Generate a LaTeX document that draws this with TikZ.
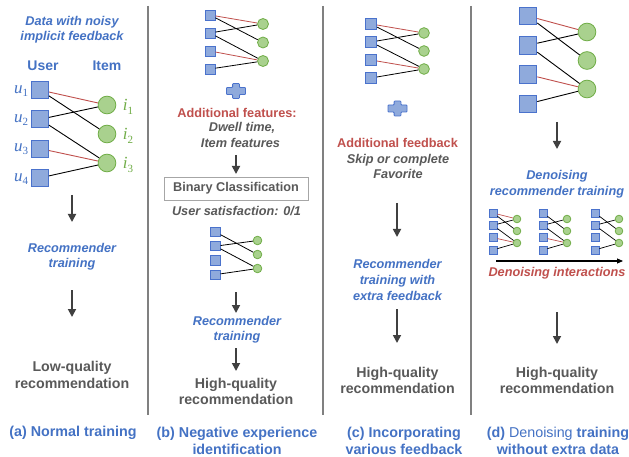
\documentclass[tikz,border=0pt]{standalone}
\usepackage{fontspec}
\setmainfont{Liberation Sans}
\newfontfamily\labserif{Liberation Serif}
\usetikzlibrary{arrows.meta}
\definecolor{tblue}{HTML}{4472C4}
\definecolor{sqfill}{HTML}{8FAADC}
\definecolor{sqdraw}{HTML}{4A72CC}
\definecolor{cfill}{HTML}{A9D18E}
\definecolor{cdraw}{HTML}{70AD47}
\definecolor{tred}{HTML}{C0504D}
\definecolor{tgray}{HTML}{595959}
\definecolor{agray}{HTML}{404040}
\definecolor{divgray}{HTML}{808080}
\definecolor{boxgray}{HTML}{A6A6A6}
\tikzset{
  sq/.style={draw=sqdraw, fill=sqfill, minimum size=#1, inner sep=0pt, line width=0.8pt},
  cir/.style={circle, draw=cdraw, fill=cfill, minimum size=#1, inner sep=0pt, line width=0.8pt},
  blk/.style={black},
  redl/.style={tred},
  flow/.style={agray, line width=1.7pt, -{Triangle[width=8pt,length=8pt]}},
  longarrow/.style={black, line width=1.1pt, -{Triangle[width=5pt,length=6pt]}},
  divider/.style={divgray, line width=1.1pt},
  plusst/.style={fill=sqfill, draw=sqdraw, line width=0.8pt, rounded corners=0.8pt},
  tbi/.style={text=tblue, font=\fontsize{12.7}{15}\selectfont\bfseries\itshape, align=center, inner sep=0pt},
  grayi/.style={text=tgray, font=\fontsize{12.7}{15}\selectfont\bfseries\itshape, align=center, inner sep=0pt},
  redb/.style={text=tred, font=\fontsize{12.7}{15}\selectfont\bfseries, align=center, inner sep=0pt},
  redi/.style={text=tred, font=\fontsize{12.7}{15}\selectfont\bfseries\itshape, align=center, inner sep=0pt},
  res/.style={text=tgray, font=\fontsize{14.2}{16.5}\selectfont\bfseries, align=center, inner sep=0pt},
  capt/.style={text=tblue, font=\fontsize{14.3}{17}\selectfont\bfseries, align=center, inner sep=0pt},
  hdr/.style={text=tblue, font=\fontsize{14}{16}\selectfont\bfseries, inner sep=0pt},
  ulab/.style={text=tblue, font=\fontsize{17}{18}\selectfont\labserif\itshape, inner sep=0pt},
  ilab/.style={text=cdraw, font=\fontsize{17}{18}\selectfont\labserif\itshape, inner sep=0pt},
  binbox/.style={draw=boxgray, line width=0.9pt, minimum width=144pt, minimum height=23pt, text=tgray, font=\fontsize{12.7}{15}\selectfont\bfseries, inner sep=0pt}
}
\newcommand\labsub[1]{\raisebox{-3.5pt}{\fontsize{11}{11}\selectfont\upshape #1}}
% #1 prefix, #2 square x, #3 circle x, #4 square y0, #5 square dy, #6 circle y0, #7 circle dy, #8 square size, #9 circle diameter
\newcommand\bipnodes[9]{%
  \foreach \k in {1,...,4} {\node[sq=#8pt] (#1u\k) at (#2,{#4+(\k-1)*#5}) {};}
  \foreach \k in {1,2,3} {\node[cir=#9pt] (#1i\k) at (#3,{#6+(\k-1)*#7}) {};}
}
\newcommand\plusshape[2]{%
  \draw[plusst, shift={(#1,#2)}] (-9.5,-3.5) -- (-3.4,-3.5) -- (-3.4,-7.5) -- (3.4,-7.5) -- (3.4,-3.5) -- (9.5,-3.5)
    -- (9.5,3.5) -- (3.4,3.5) -- (3.4,7.5) -- (-3.4,7.5) -- (-3.4,3.5) -- (-9.5,3.5) -- cycle;
}
\begin{document}
\begin{tikzpicture}[x=1pt,y=-1pt]
\useasboundingbox[fill=white] (0,0) rectangle (629,457);

% dividers
\coordinate (dv1t) at (148,6); \coordinate (dv1b) at (148,415);
\coordinate (dv2t) at (323,6); \coordinate (dv2b) at (323,415);
\coordinate (dv3t) at (471,6); \coordinate (dv3b) at (471,415);
\draw[divider] (dv1t) -- (dv1b);
\draw[divider] (dv2t) -- (dv2b);
\draw[divider] (dv3t) -- (dv3b);

% ===== (a) =====
\node[tbi] (adata) at (72,30) {Data with noisy\\implicit feedback};
\node[hdr] (auser) at (43,66) {User};
\node[hdr] (aitem) at (107,66) {Item};
\bipnodes{a}{40}{107}{90}{29.3}{105}{29}{17}{17.7}
\begin{scope}[line width=0.9pt]
\draw[redl] (au1) -- (ai1);
\draw[blk] (au1) -- (ai2);
\draw[blk] (au2) -- (ai1);
\draw[blk] (au2) -- (ai3);
\draw[redl] (au3) -- (ai3);
\draw[blk] (au4) -- (ai3);
\end{scope}
\node[ulab] (lu1) at (21,91) {u\labsub{1}};
\node[ulab] (lu2) at (21,120) {u\labsub{2}};
\node[ulab] (lu3) at (21,149) {u\labsub{3}};
\node[ulab] (lu4) at (21,179) {u\labsub{4}};
\node[ilab] (li1) at (128,107) {i\labsub{1}};
\node[ilab] (li2) at (128,136) {i\labsub{2}};
\node[ilab] (li3) at (128,165) {i\labsub{3}};
\coordinate (aa1s) at (72,195); \coordinate (aa1e) at (72,222);
\draw[flow] (aa1s) -- (aa1e);
\node[tbi] (arec) at (72,257) {Recommender\\training};
\coordinate (aa2s) at (72,290); \coordinate (aa2e) at (72,317);
\draw[flow] (aa2s) -- (aa2e);
\node[res] (alow) at (72,375) {Low-quality\\recommendation};
\node[capt] (acap) at (73,433) {(a) Normal training};

% ===== (b) =====
\bipnodes{b}{210}{263}{15}{18}{24}{18.5}{10}{11}
\begin{scope}[line width=0.8pt]
\draw[redl] (bu1) -- (bi1);
\draw[blk] (bu1) -- (bi2);
\draw[blk] (bu2) -- (bi1);
\draw[blk] (bu2) -- (bi3);
\draw[redl] (bu3) -- (bi3);
\draw[blk] (bu4) -- (bi3);
\end{scope}
\plusshape{236}{91}
\node[redb] (bfeat) at (237,113) {Additional features:};
\node[grayi] (bdwell) at (242,128) {Dwell time,};
\node[grayi] (bitem) at (240.5,143) {Item features};
\coordinate (ba1s) at (236,155); \coordinate (ba1e) at (236,174);
\draw[flow] (ba1s) -- (ba1e);
\node[binbox] (bbin) at (236,188.5) {Binary Classification};
\node[grayi] (bsat) at (236.5,211) {User satisfaction: 0/1};
\bipnodes{e}{215.5}{257.5}{232}{14.2}{240.5}{14}{9.3}{8.6}
\begin{scope}[line width=0.8pt]
\draw[blk] (eu1) -- (ei2);
\draw[blk] (eu2) -- (ei1);
\draw[blk] (eu2) -- (ei3);
\draw[blk] (eu4) -- (ei3);
\end{scope}
\coordinate (ba2s) at (236,292); \coordinate (ba2e) at (236,313);
\draw[flow] (ba2s) -- (ba2e);
\node[tbi] (brec) at (237,330) {Recommender\\training};
\coordinate (ba3s) at (236,348); \coordinate (ba3e) at (236,371);
\draw[flow] (ba3s) -- (ba3e);
\node[res] (bhigh) at (236,391.5) {High-quality\\recommendation};
\node[capt] (bcap) at (237,441) {(b) Negative experience\\identification};

% ===== (c) =====
\bipnodes{c}{371}{424}{24}{18}{33}{18}{11.5}{10.7}
\begin{scope}[line width=0.8pt]
\draw[redl] (cu1) -- (ci1);
\draw[blk] (cu1) -- (ci2);
\draw[blk] (cu2) -- (ci1);
\draw[blk] (cu2) -- (ci3);
\draw[redl] (cu3) -- (ci3);
\draw[blk] (cu4) -- (ci3);
\end{scope}
\plusshape{397.5}{108.5}
\node[redb] (cfb) at (397.5,143) {Additional feedback};
\node[grayi] (cskip) at (398,166) {Skip or complete\\Favorite};
\coordinate (ca1s) at (397,203); \coordinate (ca1e) at (397,237);
\draw[flow] (ca1s) -- (ca1e);
\node[tbi, font=\fontsize{12.7}{16}\selectfont\bfseries\itshape] (crec) at (397.5,280) {Recommender\\training with\\extra feedback};
\coordinate (ca2s) at (397,309); \coordinate (ca2e) at (397,343);
\draw[flow] (ca2s) -- (ca2e);
\node[res] (chigh) at (397.5,380.5) {High-quality\\recommendation};
\node[capt] (ccap) at (404,441) {(c) Incorporating\\various feedback};

% ===== (d) =====
\bipnodes{d}{528}{587}{16}{29.3}{32}{28.5}{17.7}{17.7}
\begin{scope}[line width=0.9pt]
\draw[redl] (du1) -- (di1);
\draw[blk] (du1) -- (di2);
\draw[blk] (du2) -- (di1);
\draw[blk] (du2) -- (di3);
\draw[redl] (du3) -- (di3);
\draw[blk] (du4) -- (di3);
\end{scope}
\coordinate (da1s) at (557,122); \coordinate (da1e) at (557,149);
\draw[flow] (da1s) -- (da1e);
\node[tbi, font=\fontsize{12.7}{16}\selectfont\bfseries\itshape] (ddn) at (557,184.5) {Denoising\\recommender training};
% mini graphs
\bipnodes{f}{493}{517}{213}{12.3}{219}{12}{8}{7.6}
\bipnodes{g}{543}{567}{213}{12.3}{219}{12}{8}{7.6}
\bipnodes{h}{595}{619}{213}{12.3}{219}{12}{8}{7.6}
\begin{scope}[line width=0.7pt]
\draw[redl] (fu1) -- (fi1);
\draw[blk] (fu1) -- (fi2);
\draw[blk] (fu2) -- (fi1);
\draw[blk] (fu2) -- (fi3);
\draw[redl] (fu3) -- (fi3);
\draw[blk] (fu4) -- (fi3);
\draw[blk] (gu1) -- (gi2);
\draw[blk] (gu2) -- (gi1);
\draw[blk] (gu2) -- (gi3);
\draw[redl] (gu3) -- (gi3);
\draw[blk] (gu4) -- (gi3);
\draw[blk] (hu1) -- (hi2);
\draw[blk] (hu2) -- (hi1);
\draw[blk] (hu2) -- (hi3);
\draw[blk] (hu4) -- (hi3);
\end{scope}
\coordinate (las) at (496,261); \coordinate (lae) at (623,261);
\draw[longarrow] (las) -- (lae);
\node[redi] (dint) at (557,273.5) {Denoising interactions};
\coordinate (da2s) at (557,312); \coordinate (da2e) at (557,344);
\draw[flow] (da2s) -- (da2e);
\node[res] (dhigh) at (557,380.5) {High-quality\\recommendation};
\node[capt] (dcap) at (558,441) {(d) {\mdseries Denoising} training\\without extra data};
\end{tikzpicture}
\end{document}
